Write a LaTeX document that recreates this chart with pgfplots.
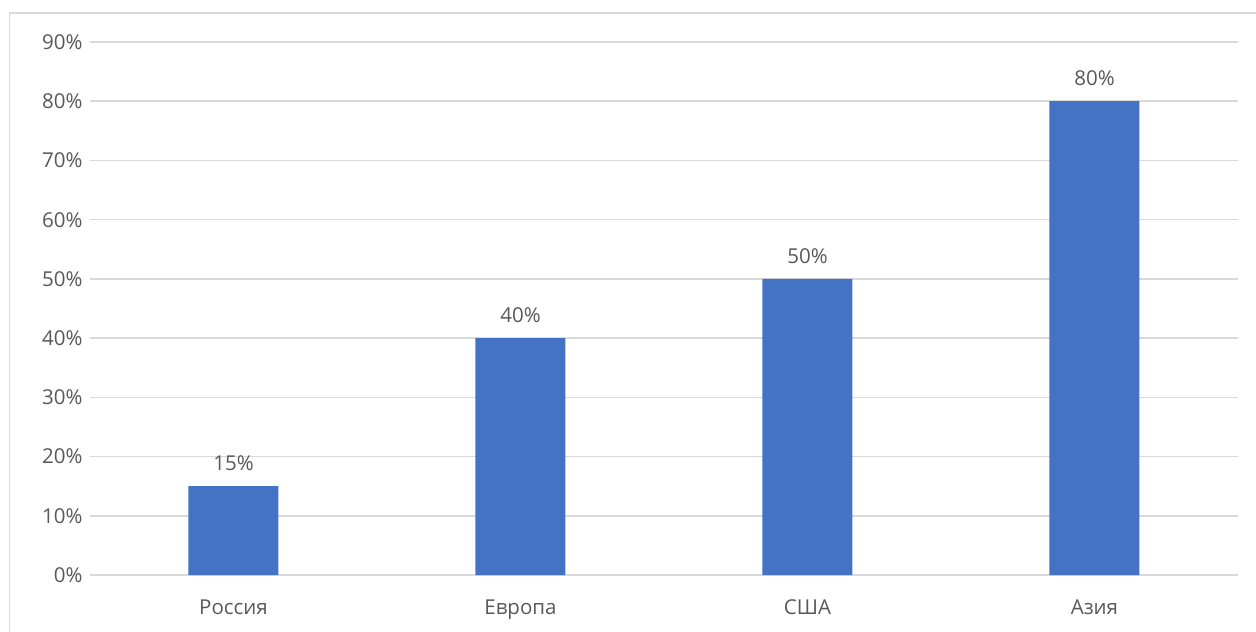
\documentclass[border=0pt]{standalone}
\usepackage{pgfplots}
\pgfplotsset{compat=1.18}
\usepackage{fontspec}
\setmainfont{Open Sans}
\definecolor{barblue}{RGB}{68,114,196}
\definecolor{gridgray}{RGB}{217,217,217}
\definecolor{textgray}{RGB}{89,89,89}
\begin{document}
\begin{tikzpicture}[x=1pt,y=1pt]
\useasboundingbox (0,0) rectangle (1256,632);
\fill[white] (0,0) rectangle (1256,632);
% chart-area frame (top and left edges)
\draw[gridgray,line width=1.5pt] (9.5,0) -- (9.5,619) -- (1256,619);
\begin{axis}[
  at={(90pt,57pt)}, anchor=south west,
  scale only axis, width=1148pt, height=533pt,
  xmin=-0.5, xmax=3.5, ymin=0, ymax=90,
  xtick={0,1,2,3},
  xticklabels={Россия,Европа,США,Азия},
  ytick={0,10,...,90},
  yticklabels={0\%,10\%,20\%,30\%,40\%,50\%,60\%,70\%,80\%,90\%},
  ymajorgrids, grid style={gridgray,line width=1.5pt},
  axis line style={draw=none},
  major tick length=0pt,
  tick label style={font=\fontsize{20.5}{24}\selectfont, text=textgray},
  yticklabel style={xshift=-4pt},
  xticklabel style={yshift=-21pt},
  ybar, bar width=90pt,
  point meta=explicit symbolic,
  nodes near coords,
  every node near coord/.append style={font=\fontsize{20.5}{24}\selectfont, text=textgray, yshift=12pt},
  clip=false,
]
\addplot[fill=barblue, draw=none] coordinates {
  (0,15) [15\%]
  (1,40) [40\%]
  (2,50) [50\%]
  (3,80) [80\%]
};
\end{axis}
\end{tikzpicture}
\end{document}
